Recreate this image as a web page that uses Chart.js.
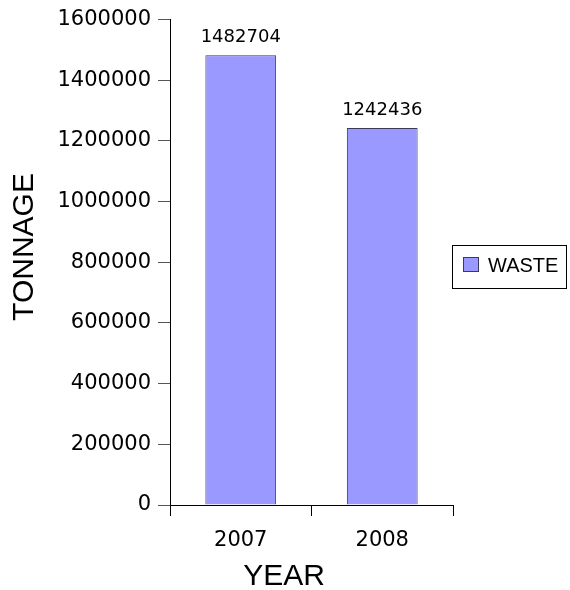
<!DOCTYPE html>
<html>
<head>
<meta charset="utf-8">
<script src="https://cdn.jsdelivr.net/npm/chart.js@4.4.1/dist/chart.umd.min.js"></script>
<style>
  html, body { margin: 0; padding: 0; background: #fff; }
  #wrap { width: 570px; height: 590px; }
</style>
</head>
<body>
<div id="wrap"><canvas id="waste-chart" width="570" height="590"></canvas></div>
<script>
const years = ["2007", "2008"];
const wasteTonnage = [1482704, 1242436];
const seriesName = "WASTE";
const xTitle = "YEAR";
const yTitle = "TONNAGE";

const barFill = "#9999ff";
const barEdge = "#3a3a5a";

// value labels above each bar
const barValues = {
  id: "barValues",
  afterDatasetsDraw(chart) {
    const c = chart.ctx;
    const meta = chart.getDatasetMeta(0);
    c.save();
    c.font = "18px 'DejaVu Sans'";
    c.fillStyle = "#000";
    c.textAlign = "center";
    c.textBaseline = "alphabetic";
    meta.data.forEach((bar, i) => {
      c.fillText(String(chart.data.datasets[0].data[i]), bar.x, bar.y - 13.5);
    });
    c.restore();
  },
};

// axis titles and boxed legend
const extras = {
  id: "extras",
  afterDraw(chart) {
    const c = chart.ctx;
    c.save();
    c.fillStyle = "#000";
    c.font = "30px 'Liberation Sans'";
    c.textAlign = "center";
    c.textBaseline = "alphabetic";
    c.fillText(xTitle, 284, 585);

    c.translate(33, 247);
    c.rotate(-Math.PI / 2);
    c.fillText(yTitle, 0, 0);
    c.restore();

    c.save();
    c.strokeStyle = "#000";
    c.lineWidth = 1;
    c.strokeRect(452.5, 245.5, 114, 43);
    c.fillStyle = chart.data.datasets[0].backgroundColor;
    c.fillRect(463.5, 257.5, 15, 14);
    c.strokeStyle = barEdge;
    c.strokeRect(463.5, 257.5, 15, 14);
    c.fillStyle = "#000";
    c.font = "20px 'Liberation Sans'";
    c.textAlign = "left";
    c.textBaseline = "alphabetic";
    c.fillText(chart.data.datasets[0].label, 488, 272);
    c.restore();
  },
};

new Chart(document.getElementById("waste-chart"), {
  type: "bar",
  data: {
    labels: years,
    datasets: [
      {
        label: seriesName,
        data: wasteTonnage,
        backgroundColor: barFill,
        borderColor: barEdge,
        borderWidth: 1,
        categoryPercentage: 1,
        barPercentage: 0.5,
      },
    ],
  },
  options: {
    responsive: false,
    animation: false,
    layout: {
      padding: { top: 17, right: 117, left: 0, bottom: 0 },
    },
    scales: {
      y: {
        min: 0,
        max: 1600000,
        ticks: {
          stepSize: 200000,
          color: "#000",
          padding: 7,
          font: { family: "DejaVu Sans", size: 21 },
          callback: (v) => String(v),
        },
        grid: {
          drawOnChartArea: false,
          tickLength: 12,
          tickColor: "#555",
        },
        border: { display: true, color: "#000" },
        afterFit(scale) {
          scale.width = 170;
        },
      },
      x: {
        offset: true,
        ticks: {
          color: "#000",
          padding: 12,
          font: { family: "DejaVu Sans", size: 21 },
        },
        grid: {
          offset: true,
          drawOnChartArea: false,
          tickLength: 11,
          tickColor: "#000",
        },
        border: { display: true, color: "#000" },
        afterFit(scale) {
          scale.height = 85;
        },
      },
    },
    plugins: {
      legend: { display: false },
      tooltip: { enabled: false },
    },
  },
  plugins: [barValues, extras],
});
</script>
</body>
</html>
